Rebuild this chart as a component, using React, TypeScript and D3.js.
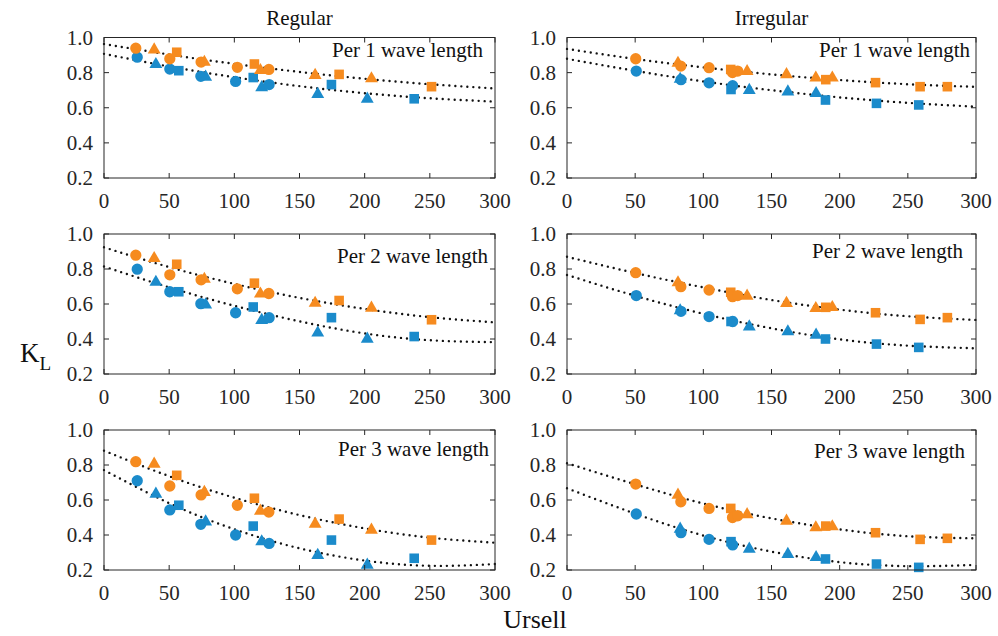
import React from "react";
import * as d3 from "d3";

// ---------- data ----------
const xTicks = [0, 50, 100, 150, 200, 250, 300];
const yTicks = [0.2, 0.4, 0.6, 0.8, 1.0];
const columnTitles = ["Regular", "Irregular"];
const rowLabels = ["Per 1 wave length", "Per 2 wave length", "Per 3 wave length"];

// Regular (left column)
const regOrangeX = [24.4, 38.5, 55.8, 50.5, 74.5, 77, 102.3, 115.4, 120, 126.5, 162, 180.4, 205.2, 251.3];
const regOrangeShape = ["c", "t", "s", "c", "c", "t", "c", "s", "t", "c", "t", "s", "t", "s"];
const regOrangeY1 = [0.939, 0.93, 0.916, 0.879, 0.86, 0.86, 0.83, 0.849, 0.813, 0.818, 0.785, 0.79, 0.766, 0.72];
const regOrangeY2 = [0.879, 0.861, 0.827, 0.767, 0.738, 0.742, 0.687, 0.719, 0.658, 0.66, 0.605, 0.62, 0.577, 0.51];
const regOrangeY3 = [0.819, 0.806, 0.741, 0.68, 0.629, 0.644, 0.57, 0.61, 0.537, 0.531, 0.463, 0.491, 0.429, 0.371];

const regBlueX = [25.5, 39.8, 50.5, 57.4, 74.3, 78, 101, 114.5, 121, 126.7, 164, 174.5, 202, 238];
const regBlueShape = ["c", "t", "c", "s", "c", "t", "c", "s", "t", "c", "t", "s", "t", "s"];
const regBlueY1 = [0.888, 0.847, 0.82, 0.811, 0.779, 0.775, 0.75, 0.772, 0.715, 0.732, 0.677, 0.732, 0.65, 0.651];
const regBlueY2 = [0.799, 0.725, 0.67, 0.67, 0.602, 0.596, 0.55, 0.583, 0.507, 0.522, 0.435, 0.522, 0.4, 0.414];
const regBlueY3 = [0.71, 0.634, 0.543, 0.57, 0.461, 0.476, 0.4, 0.451, 0.362, 0.352, 0.284, 0.371, 0.229, 0.267];

// Irregular (right column)
const irrOrangeX = [50.4, 81.4, 83.5, 104.2, 120.1, 121.4, 125.2, 132.1, 161, 182.5, 189.8, 194.6, 226.3, 259, 279];
const irrOrangeShape = ["c", "t", "c", "c", "s", "c", "c", "t", "t", "t", "s", "t", "s", "s", "s"];
const irrOrangeY1 = [0.879, 0.854, 0.837, 0.828, 0.818, 0.8, 0.809, 0.807, 0.789, 0.77, 0.76, 0.77, 0.743, 0.72, 0.72];
const irrOrangeY2 = [0.779, 0.722, 0.699, 0.68, 0.667, 0.642, 0.648, 0.646, 0.604, 0.575, 0.581, 0.581, 0.55, 0.512, 0.522];
const irrOrangeY3 = [0.691, 0.629, 0.59, 0.552, 0.552, 0.5, 0.51, 0.517, 0.48, 0.442, 0.451, 0.448, 0.413, 0.375, 0.381];

const irrBlueX = [50.8, 83, 83.6, 104.2, 120.3, 121.5, 133.7, 162, 182.7, 189.6, 227, 258];
const irrBlueShape = ["c", "t", "c", "c", "s", "c", "t", "t", "t", "s", "s", "s"];
const irrBlueY1 = [0.809, 0.763, 0.76, 0.742, 0.704, 0.726, 0.7, 0.691, 0.682, 0.644, 0.625, 0.616];
const irrBlueY2 = [0.648, 0.562, 0.558, 0.528, 0.5, 0.5, 0.47, 0.442, 0.423, 0.4, 0.371, 0.352];
const irrBlueY3 = [0.52, 0.434, 0.413, 0.375, 0.362, 0.343, 0.32, 0.29, 0.272, 0.263, 0.234, 0.215];

// Fitted trend lines, read at these Ursell values
const fitX = [0, 50, 100, 150, 200, 250, 300];
const regOrangeFit1 = [0.963, 0.903, 0.85, 0.804, 0.765, 0.734, 0.71];
const regBlueFit1 = [0.907, 0.835, 0.774, 0.723, 0.683, 0.654, 0.635];
const regOrangeFit2 = [0.924, 0.811, 0.715, 0.635, 0.572, 0.525, 0.495];
const regBlueFit2 = [0.814, 0.695, 0.59, 0.501, 0.432, 0.393, 0.382];
const regOrangeFit3 = [0.882, 0.736, 0.613, 0.514, 0.438, 0.385, 0.356];
const regBlueFit3 = [0.771, 0.582, 0.433, 0.324, 0.254, 0.224, 0.234];
const irrOrangeFit1 = [0.935, 0.878, 0.83, 0.79, 0.758, 0.734, 0.719];
const irrBlueFit1 = [0.879, 0.81, 0.75, 0.7, 0.659, 0.628, 0.606];
const irrOrangeFit2 = [0.87, 0.777, 0.695, 0.623, 0.568, 0.53, 0.509];
const irrBlueFit2 = [0.766, 0.647, 0.544, 0.461, 0.398, 0.362, 0.347];
const irrOrangeFit3 = [0.81, 0.69, 0.58, 0.495, 0.432, 0.393, 0.381];
const irrBlueFit3 = [0.667, 0.522, 0.397, 0.305, 0.245, 0.222, 0.229];

// ---------- layout / style ----------
const W = 998;
const H = 636;
const COLS = [
  { x0: 104, x1: 495 },
  { x0: 567, x1: 976 },
];
const ROWS = [
  { y0: 37.5, y1: 178 },
  { y0: 234, y1: 374 },
  { y0: 430, y1: 570 },
];
// [right inset, baseline offset from top] of the "Per N wave length" labels
const LABEL_POS = [
  [[12, 19.5], [6, 19.5]],
  [[7, 29], [13, 24]],
  [[6, 26], [11, 28]],
];
const ORANGE = "#F68B1F";
const BLUE = "#1B8BCB";
const AXIS = "#262626";
const FONT = "'Liberation Serif', 'Times New Roman', serif";

type Pt = { x: number; y: number; m: string };
const zip = (xs: number[], ys: number[], ms: string[]): Pt[] =>
  xs.map((x, i) => ({ x, y: ys[i], m: ms[i] }));

const panels = [
  [
    { o: zip(regOrangeX, regOrangeY1, regOrangeShape), b: zip(regBlueX, regBlueY1, regBlueShape), fo: regOrangeFit1, fb: regBlueFit1 },
    { o: zip(irrOrangeX, irrOrangeY1, irrOrangeShape), b: zip(irrBlueX, irrBlueY1, irrBlueShape), fo: irrOrangeFit1, fb: irrBlueFit1 },
  ],
  [
    { o: zip(regOrangeX, regOrangeY2, regOrangeShape), b: zip(regBlueX, regBlueY2, regBlueShape), fo: regOrangeFit2, fb: regBlueFit2 },
    { o: zip(irrOrangeX, irrOrangeY2, irrOrangeShape), b: zip(irrBlueX, irrBlueY2, irrBlueShape), fo: irrOrangeFit2, fb: irrBlueFit2 },
  ],
  [
    { o: zip(regOrangeX, regOrangeY3, regOrangeShape), b: zip(regBlueX, regBlueY3, regBlueShape), fo: regOrangeFit3, fb: regBlueFit3 },
    { o: zip(irrOrangeX, irrOrangeY3, irrOrangeShape), b: zip(irrBlueX, irrBlueY3, irrBlueShape), fo: irrOrangeFit3, fb: irrBlueFit3 },
  ],
];

const symbolFor = (m: string) => {
  if (m === "t") return d3.symbol().type(d3.symbolTriangle).size(72)();
  if (m === "s") return d3.symbol().type(d3.symbolSquare).size(92)();
  return d3.symbol().type(d3.symbolCircle).size(100)();
};

function Panel({ r, c }: { r: number; c: number }) {
  const col = COLS[c];
  const row = ROWS[r];
  const x = d3.scaleLinear().domain([0, 300]).range([col.x0, col.x1]);
  const y = d3.scaleLinear().domain([0.2, 1.0]).range([row.y1, row.y0]);
  const p = panels[r][c];
  const line = d3
    .line<number>()
    .x((_, i) => x(fitX[i]))
    .y((v) => y(v))
    .curve(d3.curveNatural);
  const tl = 5;
  const [inset, base] = LABEL_POS[r][c];
  return (
    <g>
      {/* fits */}
      {[p.fo, p.fb].map((f, i) => (
        <path
          key={"f" + i}
          d={line(f) || ""}
          fill="none"
          stroke="#111"
          strokeWidth={2.4}
          strokeDasharray="0 6"
          strokeLinecap="round"
        />
      ))}
      {/* markers */}
      {p.b.map((d, i) => (
        <path key={"b" + i} d={symbolFor(d.m) || ""} transform={`translate(${x(d.x)},${y(d.y)})`} fill={BLUE} />
      ))}
      {p.o.map((d, i) => (
        <path key={"o" + i} d={symbolFor(d.m) || ""} transform={`translate(${x(d.x)},${y(d.y)})`} fill={ORANGE} />
      ))}
      {/* axes box */}
      <rect x={col.x0} y={row.y0} width={col.x1 - col.x0} height={row.y1 - row.y0} fill="none" stroke={AXIS} strokeWidth={1} />
      {xTicks.map((t) => (
        <g key={"xt" + t}>
          <line x1={x(t)} x2={x(t)} y1={row.y1} y2={row.y1 - tl} stroke={AXIS} />
          <line x1={x(t)} x2={x(t)} y1={row.y0} y2={row.y0 + tl} stroke={AXIS} />
          <text x={x(t)} y={row.y1 + 30} textAnchor="middle" fontSize={21} fontFamily={FONT} fill={AXIS}>
            {t}
          </text>
        </g>
      ))}
      {yTicks.map((t) => (
        <g key={"yt" + t}>
          <line x1={col.x0} x2={col.x0 + tl} y1={y(t)} y2={y(t)} stroke={AXIS} />
          <line x1={col.x1} x2={col.x1 - tl} y1={y(t)} y2={y(t)} stroke={AXIS} />
          <text x={col.x0 - 11} y={y(t) + 7} textAnchor="end" fontSize={21} fontFamily={FONT} fill={AXIS}>
            {t.toFixed(1)}
          </text>
        </g>
      ))}
      <text x={col.x1 - inset} y={row.y0 + base} textAnchor="end" fontSize={21} fontFamily={FONT} fill="#111">
        {rowLabels[r]}
      </text>
    </g>
  );
}

export default function App() {
  return (
    <svg
      width={W}
      height={H}
      viewBox={`0 0 ${W} ${H}`}
      style={{ position: "absolute", left: 0, top: 0, background: "#fff" }}
    >
      <rect width={W} height={H} fill="#fff" />
      {ROWS.map((_, r) => COLS.map((__, c) => <Panel key={r + "-" + c} r={r} c={c} />))}
      {columnTitles.map((t, c) => (
        <text
          key={t}
          x={(COLS[c].x0 + COLS[c].x1) / 2}
          y={25}
          textAnchor="middle"
          fontSize={21}
          fontFamily={FONT}
          fill="#111"
        >
          {t}
        </text>
      ))}
      <text x={535} y={628} textAnchor="middle" fontSize={26} fontFamily={FONT} fill="#111">
        Ursell
      </text>
      <text x={20} y={362} fontSize={27} fontFamily={FONT} fill="#111">
        K<tspan fontSize={19} dy={8}>L</tspan>
      </text>
    </svg>
  );
}
